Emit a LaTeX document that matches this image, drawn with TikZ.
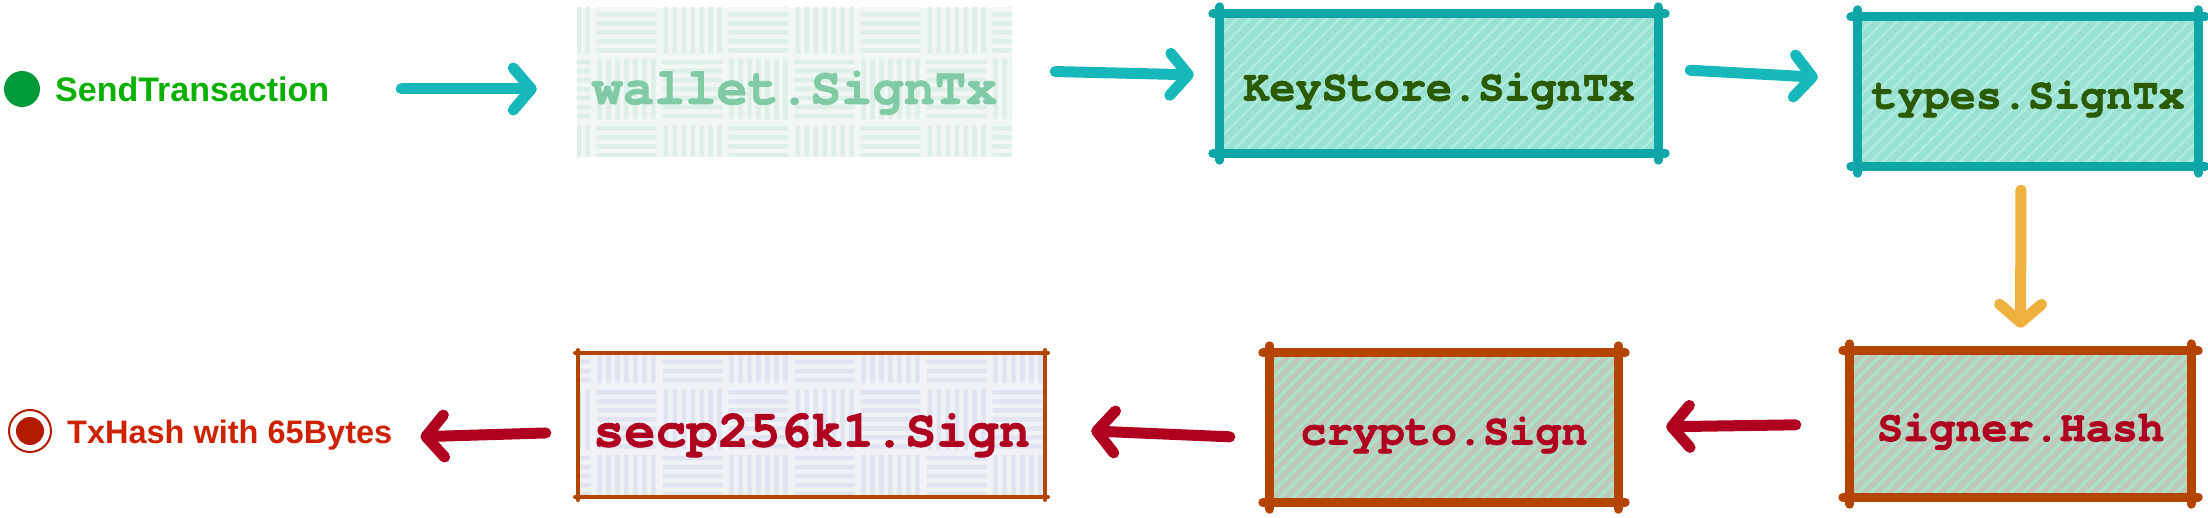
\documentclass[tikz,border=0pt]{standalone}
\usepackage{fontspec}
\usepackage{tikz}
\usetikzlibrary{arrows.meta, positioning, patterns.meta}
\newfontfamily\labelfont{Liberation Sans}
\newfontfamily\codefont[BoldFeatures={FakeBold=1.5}]{TeX Gyre Cursor}

\definecolor{flowteal}{HTML}{17B8B9}
\definecolor{edgeteal}{HTML}{0FA6A8}
\definecolor{tealfill}{HTML}{98E1D3}
\definecolor{tealhatch}{HTML}{B0EBDF}
\definecolor{keygreen}{HTML}{2B5B00}
\definecolor{walletfill}{HTML}{F0F7F4}
\definecolor{walletweave}{HTML}{DDEFE6}
\definecolor{wallettext}{HTML}{80CBA5}
\definecolor{floworange}{HTML}{EFB03E}
\definecolor{edgebrown}{HTML}{B34500}
\definecolor{signfill}{HTML}{BFC9BA}
\definecolor{signhatch}{HTML}{AAE3CC}
\definecolor{signred}{HTML}{B0001F}
\definecolor{secpfill}{HTML}{F0F2F8}
\definecolor{secpweave}{HTML}{DFE4F0}
\definecolor{startgreen}{HTML}{009A3A}
\definecolor{startlabel}{HTML}{0AB000}
\definecolor{endred}{HTML}{B31B00}
\definecolor{endlabel}{HTML}{CC2200}

% basket weave texture for the plain boxes
\pgfdeclarepattern{
  name=basketweave,
  type=uncolored,
  bottom left={\pgfpoint{0pt}{0pt}},
  top right={\pgfpoint{132pt}{132pt}},
  tile size={\pgfpoint{132pt}{132pt}},
  code={
    \pgfsetlinewidth{4.5pt}
    \foreach \k in {6,15,...,60} {
      \pgfpathmoveto{\pgfpoint{3pt}{\k pt}}\pgfpathlineto{\pgfpoint{63pt}{\k pt}}
      \pgfpathmoveto{\pgfpoint{69pt}{\k pt+66pt}}\pgfpathlineto{\pgfpoint{129pt}{\k pt+66pt}}
      \pgfpathmoveto{\pgfpoint{\k pt+66pt}{3pt}}\pgfpathlineto{\pgfpoint{\k pt+66pt}{63pt}}
      \pgfpathmoveto{\pgfpoint{\k pt}{69pt}}\pgfpathlineto{\pgfpoint{\k pt}{129pt}}
      \pgfusepath{stroke}
    }
  }
}

\begin{document}
\begin{tikzpicture}[x=1pt, y=-1pt,
    flow/.style={line width=11pt, line cap=round,
      -{Straight Barb[length=18pt, width=42pt, round]}},
    flowteal/.style={flow, draw=flowteal},
    floworange/.style={flow, draw=floworange},
    flowred/.style={flow, draw=signred},
    codebox/.style={inner sep=0pt, font=\codefont\bfseries\fontsize{43.5pt}{50pt}\selectfont,
      text height=44pt, text depth=10pt},
    weavebox/.style={codebox, font=\codefont\bfseries\fontsize{52pt}{60pt}\selectfont,
      text height=52pt, text depth=9pt},
    tealbox/.style={codebox, fill=tealfill, text=keygreen,
      postaction={pattern={Lines[angle=45, distance=9pt, line width=2.5pt]}, pattern color=tealhatch}},
    signbox/.style={codebox, fill=signfill, text=signred,
      postaction={pattern={Lines[angle=45, distance=9pt, line width=3pt]}, pattern color=signhatch}},
    tealedge/.style={draw=edgeteal, line width=9pt, line cap=round, shorten <=-7pt, shorten >=-7pt},
    brownedge/.style={draw=edgebrown, line width=9pt, line cap=round, shorten <=-7pt, shorten >=-7pt},
    thinedge/.style={draw=edgebrown, line width=3.5pt, line cap=round, shorten <=-3pt, shorten >=-3pt},
    flowlabel/.style={inner sep=0pt, font=\labelfont\bfseries\fontsize{33pt}{38pt}\selectfont}
  ]
  \useasboundingbox (0,0) rectangle (2208,518);

  % start and end points
  \node[circle, fill=startgreen, minimum size=36pt, inner sep=0pt] (start) at (22,89) {};
  \node[flowlabel, font=\labelfont\bfseries\fontsize{34pt}{38pt}\selectfont, anchor=west, text=startlabel]
    (startlbl) at (55,89) {SendTransaction};
  \node[circle, draw=endred, line width=2pt, minimum size=42pt, inner sep=0pt,
    path picture={\fill[endred] (path picture bounding box.center) circle (14pt);}] (finish) at (30,431) {};
  \node[flowlabel, font=\labelfont\bfseries\fontsize{32.5pt}{38pt}\selectfont, anchor=base west, text=endlabel]
    (endlbl) at (67,443) {TxHash with 65Bytes};

  % top row
  \node[weavebox, fill=walletfill, text=wallettext, minimum width=435pt, minimum height=149pt,
    postaction={pattern=basketweave, pattern color=walletweave}]
    (wallet) at (794.5,82.5) {wallet.SignTx};
  \node[tealbox, minimum width=438pt, minimum height=139pt] (ks) at (1439,83.5) {KeyStore.SignTx};
  \node[tealbox, minimum width=340pt, minimum height=149pt] (types) at (2028,91.5) {types.SignTx};

  % bottom row
  \node[signbox, minimum width=341pt, minimum height=146pt] (signer) at (2020.5,424) {Signer.Hash};
  \node[signbox, minimum width=348pt, minimum height=149pt] (crypto) at (1444,427.5) {crypto.Sign};
  \node[weavebox, fill=secpfill, text=signred, minimum width=467pt, minimum height=144pt,
    postaction={pattern=basketweave, pattern color=secpweave}]
    (secp) at (811.5,425) {secp256k1.Sign};

  % sketchy borders
  \foreach \b in {ks, types}
    \foreach \p/\q in {north west/north east, north east/south east, south east/south west, south west/north west}
      \draw[tealedge] (\b.\p) -- (\b.\q);
  \foreach \b in {signer, crypto}
    \foreach \p/\q in {north west/north east, north east/south east, south east/south west, south west/north west}
      \draw[brownedge] (\b.\p) -- (\b.\q);
  \foreach \p/\q in {north west/north east, north east/south east, south east/south west, south west/north west}
    \draw[thinedge] (secp.\p) -- (secp.\q);

  % connectors
  \draw[flowteal, shorten <=72pt, shorten >=40pt] (startlbl.east) -- (startlbl.east -| wallet.west);
  \draw[flowteal, shorten <=43pt, shorten >=26pt] ([yshift=12pt]wallet.east) -- ([yshift=8pt]ks.west);
  \draw[flowteal, shorten <=32pt, shorten >=40pt] ([yshift=15pt]ks.east) -- ([yshift=12pt]types.west);
  \draw[floworange, shorten <=24pt, shorten >=23pt] ([xshift=-7pt]types.south) -- (signer.north);
  \draw[flowred, shorten <=54pt, shorten >=48pt] (signer.west) -- (crypto.east);
  \draw[flowred, shorten <=40pt, shorten >=46pt] ([yshift=-11pt]crypto.west) -- ([yshift=-4pt]secp.east);
  \draw[flowred, shorten <=32pt, shorten >=28pt] ([yshift=-7pt]secp.west) -- ([yshift=-3pt]endlbl.east);
\end{tikzpicture}
\end{document}
